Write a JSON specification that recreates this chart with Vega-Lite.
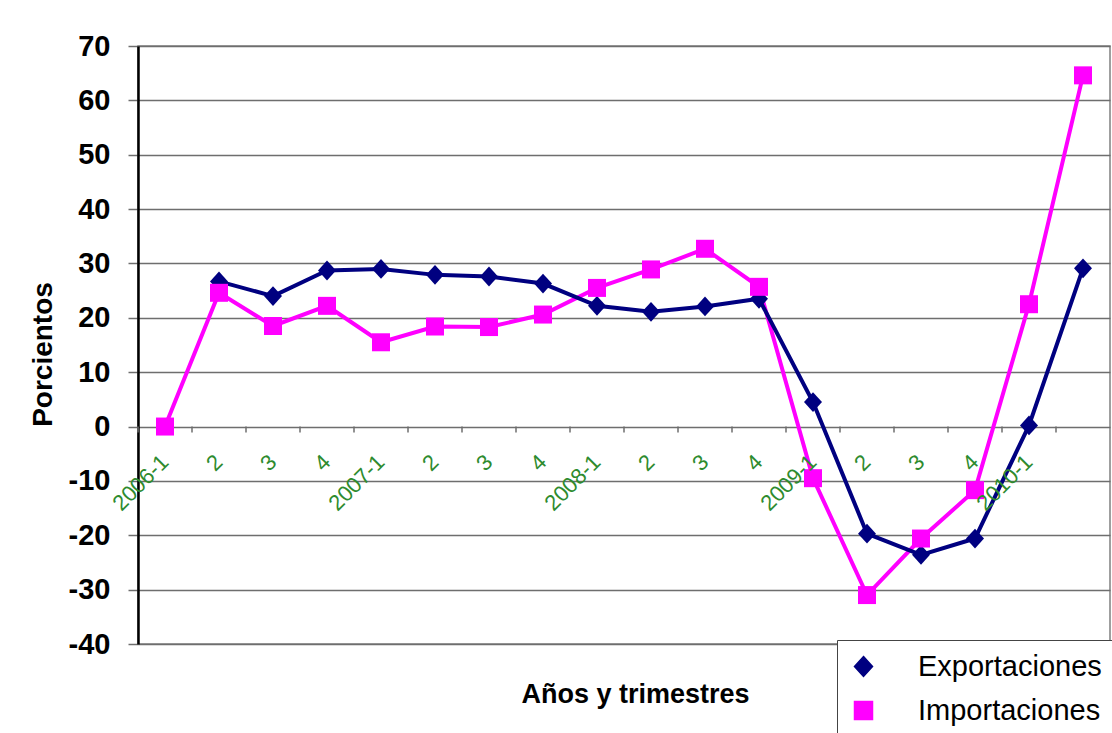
{
  "$schema": "https://vega.github.io/schema/vega-lite/v6.json",
  "width": 972,
  "height": 598,
  "autosize": "none",
  "padding": {"top": 46, "left": 138, "right": 2, "bottom": 89},
  "background": "white",
  "data": {
    "values": [
      {"periodo": "2006-1", "serie": "Importaciones", "valor": 0},
      {"periodo": "2006-2", "serie": "Exportaciones", "valor": 26.7},
      {"periodo": "2006-2", "serie": "Importaciones", "valor": 24.6},
      {"periodo": "2006-3", "serie": "Exportaciones", "valor": 24.0},
      {"periodo": "2006-3", "serie": "Importaciones", "valor": 18.5},
      {"periodo": "2006-4", "serie": "Exportaciones", "valor": 28.7},
      {"periodo": "2006-4", "serie": "Importaciones", "valor": 22.2},
      {"periodo": "2007-1", "serie": "Exportaciones", "valor": 29.0},
      {"periodo": "2007-1", "serie": "Importaciones", "valor": 15.5},
      {"periodo": "2007-2", "serie": "Exportaciones", "valor": 27.9},
      {"periodo": "2007-2", "serie": "Importaciones", "valor": 18.4},
      {"periodo": "2007-3", "serie": "Exportaciones", "valor": 27.6},
      {"periodo": "2007-3", "serie": "Importaciones", "valor": 18.3},
      {"periodo": "2007-4", "serie": "Exportaciones", "valor": 26.3},
      {"periodo": "2007-4", "serie": "Importaciones", "valor": 20.6},
      {"periodo": "2008-1", "serie": "Exportaciones", "valor": 22.2},
      {"periodo": "2008-1", "serie": "Importaciones", "valor": 25.5},
      {"periodo": "2008-2", "serie": "Exportaciones", "valor": 21.1},
      {"periodo": "2008-2", "serie": "Importaciones", "valor": 28.9},
      {"periodo": "2008-3", "serie": "Exportaciones", "valor": 22.1},
      {"periodo": "2008-3", "serie": "Importaciones", "valor": 32.7},
      {"periodo": "2008-4", "serie": "Exportaciones", "valor": 23.5},
      {"periodo": "2008-4", "serie": "Importaciones", "valor": 25.7},
      {"periodo": "2009-1", "serie": "Exportaciones", "valor": 4.5},
      {"periodo": "2009-1", "serie": "Importaciones", "valor": -9.5},
      {"periodo": "2009-2", "serie": "Exportaciones", "valor": -19.7},
      {"periodo": "2009-2", "serie": "Importaciones", "valor": -31.0},
      {"periodo": "2009-3", "serie": "Exportaciones", "valor": -23.6},
      {"periodo": "2009-3", "serie": "Importaciones", "valor": -20.6},
      {"periodo": "2009-4", "serie": "Exportaciones", "valor": -20.6},
      {"periodo": "2009-4", "serie": "Importaciones", "valor": -11.7},
      {"periodo": "2010-1", "serie": "Exportaciones", "valor": 0.2},
      {"periodo": "2010-1", "serie": "Importaciones", "valor": 22.5},
      {"periodo": "2010-2", "serie": "Exportaciones", "valor": 29.1},
      {"periodo": "2010-2", "serie": "Importaciones", "valor": 64.6},
      {"periodo": "2006-1", "etiqueta": "2006-1", "base": 0, "marca": -1.1},
      {"periodo": "2006-2", "etiqueta": "2", "base": 0, "marca": -1.1},
      {"periodo": "2006-3", "etiqueta": "3", "base": 0, "marca": -1.1},
      {"periodo": "2006-4", "etiqueta": "4", "base": 0, "marca": -1.1},
      {"periodo": "2007-1", "etiqueta": "2007-1", "base": 0, "marca": -1.1},
      {"periodo": "2007-2", "etiqueta": "2", "base": 0, "marca": -1.1},
      {"periodo": "2007-3", "etiqueta": "3", "base": 0, "marca": -1.1},
      {"periodo": "2007-4", "etiqueta": "4", "base": 0, "marca": -1.1},
      {"periodo": "2008-1", "etiqueta": "2008-1", "base": 0, "marca": -1.1},
      {"periodo": "2008-2", "etiqueta": "2", "base": 0, "marca": -1.1},
      {"periodo": "2008-3", "etiqueta": "3", "base": 0, "marca": -1.1},
      {"periodo": "2008-4", "etiqueta": "4", "base": 0, "marca": -1.1},
      {"periodo": "2009-1", "etiqueta": "2009-1", "base": 0, "marca": -1.1},
      {"periodo": "2009-2", "etiqueta": "2", "base": 0, "marca": -1.1},
      {"periodo": "2009-3", "etiqueta": "3", "base": 0, "marca": -1.1},
      {"periodo": "2009-4", "etiqueta": "4", "base": 0, "marca": -1.1},
      {"periodo": "2010-1", "etiqueta": "2010-1", "base": 0, "marca": -1.1},
      {"periodo": "2010-2", "etiqueta": "", "base": 0, "marca": -1.1}
    ]
  },
  "layer": [
    {
      "transform": [{"filter": "isValid(datum.serie)"}],
      "mark": {"type": "line", "strokeWidth": 4},
      "encoding": {
        "x": {
          "field": "periodo",
          "type": "ordinal",
          "sort": null,
          "bandPosition": 0.5,
          "scale": {
            "type": "band",
            "paddingInner": 0,
            "paddingOuter": 0,
            "domain": ["2006-1", "2006-2", "2006-3", "2006-4", "2007-1", "2007-2", "2007-3", "2007-4", "2008-1", "2008-2", "2008-3", "2008-4", "2009-1", "2009-2", "2009-3", "2009-4", "2010-1", "2010-2"]
          },
          "axis": {
            "title": "Años y trimestres",
            "domain": false,
            "ticks": false,
            "labels": false,
            "titleFont": "Liberation Sans",
            "titleFontSize": 27,
            "titleFontWeight": "bold",
            "titleColor": "black",
            "titleX": 497,
            "titleY": 50,
            "titleAlign": "center",
            "titleBaseline": "middle"
          }
        },
        "y": {
          "field": "valor",
          "type": "quantitative",
          "scale": {"domain": [-40, 70], "nice": false, "zero": false},
          "axis": {
            "title": "Porcientos",
            "values": [-40, -30, -20, -10, 0, 10, 20, 30, 40, 50, 60, 70],
            "labelExpr": "datum.value + ''",
            "grid": true,
            "gridColor": "#6e6e6e",
            "gridWidth": 1.5,
            "domainColor": "black",
            "domainWidth": 2.5,
            "tickColor": "#6e6e6e",
            "tickWidth": 1.5,
            "tickSize": 10,
            "labelPadding": 18,
            "labelFont": "Liberation Sans",
            "labelFontSize": 29,
            "labelFontWeight": "bold",
            "labelColor": "black",
            "titleFont": "Liberation Sans",
            "titleFontSize": 28,
            "titleFontWeight": "bold",
            "titleColor": "black",
            "titleX": -95,
            "titleY": 308,
            "titleAlign": "center",
            "titleBaseline": "middle"
          }
        },
        "color": {
          "field": "serie",
          "type": "nominal",
          "scale": {
            "domain": ["Exportaciones", "Importaciones"],
            "range": ["#000080", "#ff00ff"]
          },
          "legend": {
            "title": null,
            "orient": "none",
            "legendX": 699,
            "legendY": 594,
            "padding": 12,
            "fillColor": "white",
            "strokeColor": "#444444",
            "symbolSize": 324,
            "labelOffset": 40,
            "rowPadding": 14,
            "labelFont": "Liberation Sans",
            "labelFontSize": 29,
            "labelColor": "black",
            "labelLimit": 300
          }
        }
      }
    },
    {
      "transform": [{"filter": "isValid(datum.serie)"}],
      "mark": {"type": "point", "filled": true, "size": 324, "opacity": 1},
      "encoding": {
        "x": {"field": "periodo", "type": "ordinal", "sort": null, "bandPosition": 0.5},
        "y": {"field": "valor", "type": "quantitative"},
        "color": {"field": "serie", "type": "nominal"},
        "shape": {
          "field": "serie",
          "type": "nominal",
          "scale": {
            "domain": ["Exportaciones", "Importaciones"],
            "range": ["M0,-1.1L1,0L0,1.1L-1,0Z", "M-1,-1H1V1H-1Z"]
          },
          "legend": null
        }
      }
    },
    {
      "transform": [{"filter": "isValid(datum.etiqueta)"}],
      "mark": {"type": "rule", "color": "#6e6e6e", "strokeWidth": 1.5},
      "encoding": {
        "x": {"field": "periodo", "type": "ordinal", "sort": null, "bandPosition": 0},
        "y": {"field": "base", "type": "quantitative"},
        "y2": {"field": "marca"}
      }
    },
    {
      "transform": [{"filter": "isValid(datum.etiqueta)"}],
      "mark": {
        "type": "text",
        "angle": -45,
        "align": "right",
        "baseline": "middle",
        "yOffset": 32,
        "font": "Liberation Sans",
        "fontSize": 22,
        "color": "#2e8b2e"
      },
      "encoding": {
        "x": {"field": "periodo", "type": "ordinal", "sort": null, "bandPosition": 0.5},
        "y": {"field": "base", "type": "quantitative"},
        "text": {"field": "etiqueta"}
      }
    }
  ],
  "config": {
    "view": {"stroke": "#808080", "strokeWidth": 1.5}
  }
}
